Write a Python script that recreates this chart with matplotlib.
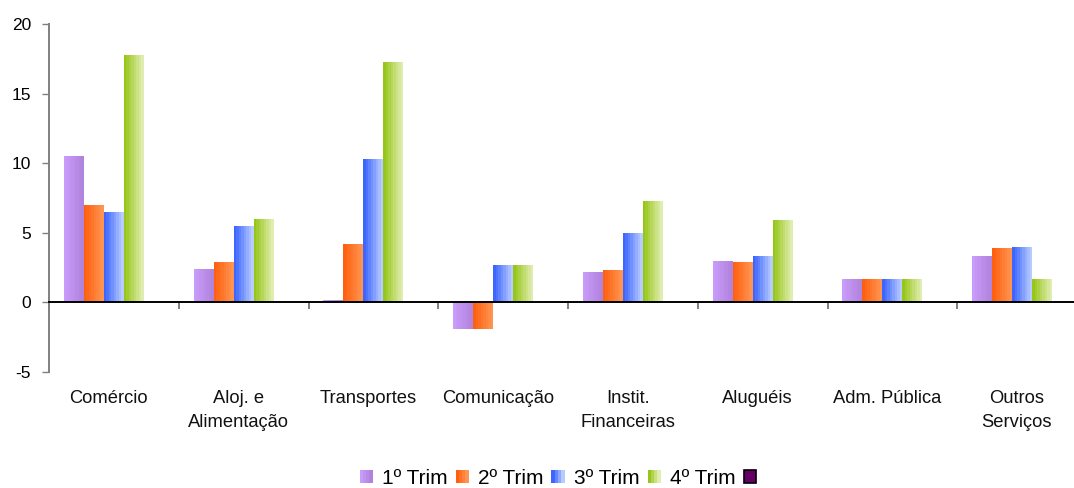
import numpy as np
import matplotlib
matplotlib.use("Agg")
import matplotlib.pyplot as plt
from matplotlib.colors import to_rgb
from matplotlib.patches import Rectangle
from matplotlib.legend_handler import HandlerBase
from matplotlib.transforms import blended_transform_factory

plt.rcParams['font.family'] = ['Liberation Sans', 'DejaVu Sans']

categories = ["Comércio", "Aloj. e\nAlimentação", "Transportes", "Comunicação",
              "Instit.\nFinanceiras", "Aluguéis", "Adm. Pública", "Outros\nServiços"]
series_names = ["1º Trim", "2º Trim", "3º Trim", "4º Trim"]
trim1 = [10.5, 2.4, 0.15, -1.9, 2.2, 3.0, 1.7, 3.3]
trim2 = [7.0, 2.9, 4.2, -1.9, 2.3, 2.9, 1.7, 3.9]
trim3 = [6.5, 5.5, 10.3, 2.7, 5.0, 3.3, 1.7, 4.0]
trim4 = [17.8, 6.0, 17.3, 2.7, 7.3, 5.9, 1.7, 1.7]
y_ticks = [-5, 0, 5, 10, 15, 20]

# gradient (left colour, right colour) per series
gradients = [("#C99BFA", "#B083DC"),
             ("#FF6010", "#FF9450"),
             ("#3C66FF", "#B8CBFF"),
             ("#97C61A", "#E0EDB0")]
extra_colour = "#660066"


def blend(c0, c1, t):
    a, b = np.array(to_rgb(c0)), np.array(to_rgb(c1))
    return tuple(a + (b - a) * t)


fig = plt.figure(figsize=(10.74, 4.88), dpi=100)
ax = fig.add_axes([49 / 1074, 1 - 372 / 488, (1087 - 49) / 1074, (372 - 24) / 488])

n_slots = 5               # four quarters plus an empty fifth series
width = 1 / 6.5           # 150% gap width
x = np.arange(len(categories))
n_bands = 8
data = [trim1, trim2, trim3, trim4]
for i, vals in enumerate(data):
    offset = (i - (n_slots - 1) / 2) * width
    c0, c1 = gradients[i]
    bw = width / n_bands
    for k in range(n_bands):
        col = blend(c0, c1, k / (n_bands - 1))
        ax.bar(x + offset - width / 2 + (k + 0.5) * bw, vals, width=bw * 1.02,
               color=col, edgecolor='none', linewidth=0)

ax.set_xlim(-0.5, len(categories) - 0.5)
ax.set_ylim(-5, 20)
ax.set_yticks(y_ticks)
ax.set_yticklabels([str(v) for v in y_ticks], fontsize=12.5)
ax.tick_params(axis='y', direction='out', length=5, width=1, color='#808080', pad=8)

# category axis drawn at zero with ticks between categories
ax.spines['bottom'].set_position(('data', 0))
ax.spines['bottom'].set_color('black')
ax.spines['bottom'].set_linewidth(1.4)
ax.spines['left'].set_color('#808080')
ax.spines['left'].set_linewidth(1.4)
ax.spines['top'].set_visible(False)
ax.spines['right'].set_visible(False)
ax.set_xticks(np.arange(len(categories) + 1) - 0.5)
ax.set_xticklabels([])
ax.tick_params(axis='x', direction='out', length=5, width=1.4, color='#808080')

trans = blended_transform_factory(ax.transData, ax.transAxes)
for xi, name in zip(x, categories):
    ax.text(xi - 0.04, -0.052, name, transform=trans, ha='center', va='top',
            fontsize=13.2, linespacing=1.5, color='#111111')


class GradientSquare(HandlerBase):
    def __init__(self, c0, c1):
        super().__init__()
        self.c0, self.c1 = c0, c1

    def create_artists(self, legend, orig_handle, xdescent, ydescent, width,
                       height, fontsize, trans):
        side = height
        x0 = -xdescent + (width - side) / 2
        y0 = -ydescent
        arts = []
        nb = 4
        for k in range(nb):
            r = Rectangle((x0 + k * side / nb, y0), side / nb * 1.05, side,
                          facecolor=blend(self.c0, self.c1, k / (nb - 1)),
                          edgecolor='none', transform=trans)
            arts.append(r)
        return arts


handles = [Rectangle((0, 0), 1, 1) for _ in series_names]
handler_map = {h: GradientSquare(*g) for h, g in zip(handles, gradients)}
extra = Rectangle((0, 0), 1, 1, facecolor=extra_colour, edgecolor='black', linewidth=1.2)
fig.legend(handles + [extra], series_names + [""], handler_map=handler_map,
           loc='center', bbox_to_anchor=(563 / 1074, 10 / 488), ncol=5,
           frameon=False, fontsize=15, handlelength=0.58, handleheight=0.58,
           handletextpad=0.48, columnspacing=0.4, borderpad=0, borderaxespad=0)

fig.savefig("out.png", dpi=100)
